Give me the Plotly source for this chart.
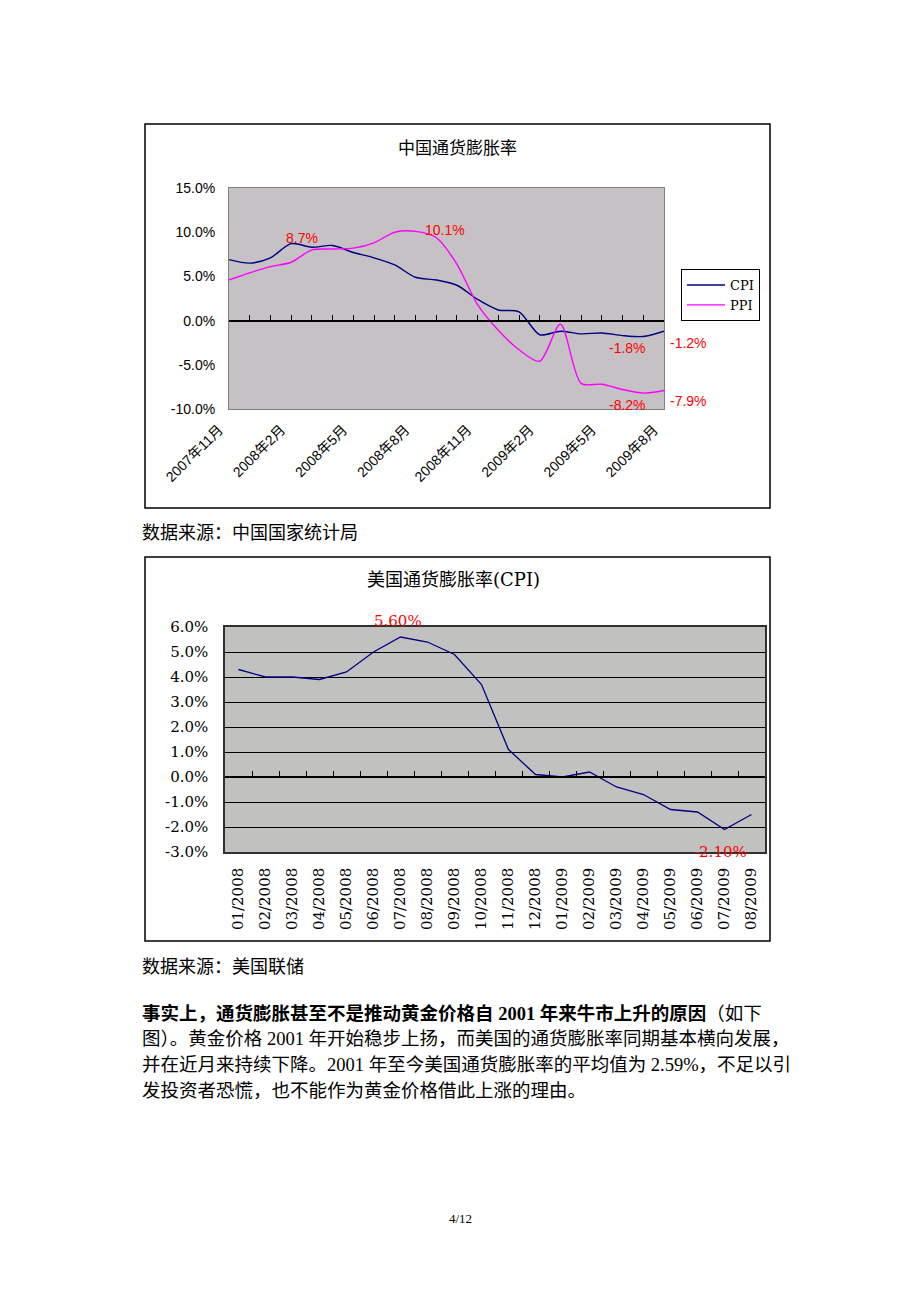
import plotly.graph_objects as go

W, H = 920, 1302

def fx(px):
    return px / W

def fy(py):
    return 1 - py / H

# ---------------- data: chart 1 (China) ----------------
cn_months = ["2007年11月", "2007年12月", "2008年1月", "2008年2月", "2008年3月", "2008年4月",
             "2008年5月", "2008年6月", "2008年7月", "2008年8月", "2008年9月", "2008年10月",
             "2008年11月", "2008年12月", "2009年1月", "2009年2月", "2009年3月", "2009年4月",
             "2009年5月", "2009年6月", "2009年7月", "2009年8月"]
cn_cpi = [6.9, 6.5, 7.1, 8.7, 8.3, 8.5, 7.7, 7.1, 6.3, 4.9, 4.6, 4.0,
          2.4, 1.2, 1.0, -1.6, -1.2, -1.5, -1.4, -1.7, -1.8, -1.2]
cn_ppi = [4.6, 5.4, 6.1, 6.6, 8.0, 8.1, 8.2, 8.8, 10.0, 10.1, 9.4, 6.4,
          1.8, -1.1, -3.3, -4.6, -0.4, -7.1, -7.2, -7.8, -8.2, -7.9]
cn_yticks = [-10, -5, 0, 5, 10, 15]

# ---------------- data: chart 2 (USA) ----------------
us_months = ["01/2008", "02/2008", "03/2008", "04/2008", "05/2008", "06/2008", "07/2008",
             "08/2008", "09/2008", "10/2008", "11/2008", "12/2008", "01/2009", "02/2009",
             "03/2009", "04/2009", "05/2009", "06/2009", "07/2009", "08/2009"]
us_cpi = [4.3, 4.0, 4.0, 3.9, 4.2, 5.0, 5.6, 5.4, 4.9, 3.7, 1.1, 0.1,
          0.0, 0.2, -0.4, -0.7, -1.3, -1.4, -2.1, -1.5]
us_yticks = [-3, -2, -1, 0, 1, 2, 3, 4, 5, 6]

NAVY = "#000080"
MAGENTA = "#FF00FF"
RED = "#FF0000"

SANS = "Liberation Sans, Arial, Noto Sans CJK SC"
SERIF = "DejaVu Serif, Noto Sans CJK SC"
CJK = "Noto Sans CJK SC"
TEXTF = "Liberation Serif, Noto Sans CJK SC"

cn_x = list(range(len(cn_months)))
us_x = list(range(len(us_months)))

fig = go.Figure()

# chart 1 traces
fig.add_trace(go.Scatter(x=cn_x, y=cn_cpi, mode="lines", name="CPI",
                         line=dict(color=NAVY, width=1.4, shape="spline", smoothing=0.8),
                         xaxis="x", yaxis="y", hoverinfo="skip"))
fig.add_trace(go.Scatter(x=cn_x, y=cn_ppi, mode="lines", name="PPI",
                         line=dict(color=MAGENTA, width=1.4, shape="spline", smoothing=0.8),
                         xaxis="x", yaxis="y", hoverinfo="skip"))
# helper (invisible) trace so the zero-crossing category axis gets drawn
fig.add_trace(go.Scatter(x=cn_x, y=cn_cpi, mode="lines", line=dict(width=0, color="rgba(0,0,0,0)"),
                         xaxis="x3", yaxis="y", showlegend=False, hoverinfo="skip"))

# chart 2 traces
fig.add_trace(go.Scatter(x=us_x, y=us_cpi, mode="lines", name="US CPI",
                         line=dict(color=NAVY, width=1.3),
                         xaxis="x2", yaxis="y2", showlegend=False, hoverinfo="skip"))
fig.add_trace(go.Scatter(x=us_x, y=us_cpi, mode="lines", line=dict(width=0, color="rgba(0,0,0,0)"),
                         xaxis="x4", yaxis="y2", showlegend=False, hoverinfo="skip"))

# domains
c1x = [fx(229), fx(664)]
c1y = [fy(409), fy(188)]
c2x = [fx(225), fx(765)]
c2y = [fy(852), fy(627)]

c1_range = [cn_yticks[0], cn_yticks[-1]]
c2_range = [us_yticks[0], us_yticks[-1]]
zero1 = c1y[0] + (0 - c1_range[0]) / (c1_range[1] - c1_range[0]) * (c1y[1] - c1y[0])
zero2 = c2y[0] + (0 - c2_range[0]) / (c2_range[1] - c2_range[0]) * (c2y[1] - c2y[0])

cn_label_idx = list(range(0, len(cn_months), 3))

layout = dict(
    width=W, height=H,
    margin=dict(l=0, r=0, t=0, b=0, pad=0, autoexpand=False),
    paper_bgcolor="white",
    plot_bgcolor="rgba(0,0,0,0)",
    showlegend=True,
    legend=dict(x=fx(681), y=fy(269), xanchor="left", yanchor="top",
                bgcolor="white", bordercolor="black", borderwidth=1,
                font=dict(family=SERIF, size=13, color="black"),
                itemwidth=38, tracegroupgap=0),
    xaxis=dict(domain=c1x, anchor="y", range=[0, len(cn_months) - 1], automargin=False,
               tickmode="array", tickvals=cn_label_idx,
               ticktext=[cn_months[i] for i in cn_label_idx],
               tickangle=-45, ticks="", showgrid=False, zeroline=False,
               showline=True, mirror=True, linecolor="#808080", linewidth=1,
               tickfont=dict(family=SANS, size=14, color="black"),
               ticklabelshift=-10, ticklabelstandoff=6),
    yaxis=dict(domain=c1y, anchor="x", range=c1_range, tickmode="array", automargin=False,
               tickvals=cn_yticks, ticktext=[f"{v:.1f}%" for v in cn_yticks],
               showgrid=False, zeroline=False, ticks="",
               showline=True, mirror=True, linecolor="#808080", linewidth=1,
               tickfont=dict(family=SANS, size=14, color="black"),
               ticklabelstandoff=10),
    xaxis3=dict(overlaying="x", anchor="free", position=zero1, automargin=False,
                range=[0, len(cn_months) - 1], tickmode="linear", tick0=0, dtick=1,
                ticks="inside", ticklen=5, tickcolor="black", tickwidth=1,
                showticklabels=False, showgrid=False, zeroline=False,
                showline=True, linecolor="black", linewidth=1.5),
    xaxis2=dict(domain=c2x, anchor="y2", range=[-0.5, len(us_months) - 0.5], automargin=False,
                tickmode="array", tickvals=us_x, ticktext=us_months,
                tickangle=-90, ticks="", showgrid=False, zeroline=False,
                showline=True, mirror=True, linecolor="#303030", linewidth=1.5,
                tickfont=dict(family=SERIF, size=15, color="black"),
                ticklabelstandoff=8),
    yaxis2=dict(domain=c2y, anchor="x2", range=c2_range, tickmode="array", automargin=False,
                tickvals=us_yticks, ticktext=[f"{v:.1f}%" for v in us_yticks],
                showgrid=True, gridcolor="black", gridwidth=1.3, zeroline=False, ticks="",
                showline=True, mirror=True, linecolor="#303030", linewidth=1.5,
                tickfont=dict(family=SERIF, size=15, color="black"),
                ticklabelstandoff=12),
    xaxis4=dict(overlaying="x2", anchor="free", position=zero2, automargin=False,
                range=[-0.5, len(us_months) - 0.5], tickmode="linear", tick0=0.5, dtick=1,
                ticks="inside", ticklen=5, tickcolor="black", tickwidth=1.3,
                showticklabels=False, showgrid=False, zeroline=False,
                showline=True, linecolor="black", linewidth=1.5),
)

shapes = [
    # plot area backgrounds
    dict(type="rect", xref="x domain", yref="y domain", x0=0, x1=1, y0=0, y1=1,
         fillcolor="#C5C1C5", line=dict(width=0), layer="below"),
    dict(type="rect", xref="x2 domain", yref="y2 domain", x0=0, x1=1, y0=0, y1=1,
         fillcolor="#C1C1BF", line=dict(width=0), layer="below"),
    # chart frames
    dict(type="rect", xref="paper", yref="paper", x0=fx(145), x1=fx(770), y0=fy(508), y1=fy(124),
         line=dict(color="black", width=1.5), fillcolor="rgba(0,0,0,0)", layer="below"),
    dict(type="rect", xref="paper", yref="paper", x0=fx(145), x1=fx(770), y0=fy(941), y1=fy(557),
         line=dict(color="black", width=1.5), fillcolor="rgba(0,0,0,0)", layer="below"),
]
layout["shapes"] = shapes

ann = []
# titles
ann.append(dict(text="中国通货膨胀率", x=fx(457), y=fy(146), xref="paper", yref="paper",
                showarrow=False, font=dict(family=CJK, size=17, color="black"),
                xanchor="center", yanchor="middle"))
ann.append(dict(text="美国通货膨胀率(CPI)", x=fx(453), y=fy(579), xref="paper", yref="paper",
                showarrow=False, font=dict(family=SERIF, size=18, color="black"),
                xanchor="center", yanchor="middle"))

# chart 1 data labels
def lab1(i, series, xs, ys):
    return dict(text=f"{series[i]:.1f}%", x=cn_x[i], y=series[i], xref="x", yref="y",
                showarrow=False, xshift=xs, yshift=ys,
                font=dict(family=SANS, size=14, color=RED),
                xanchor="center", yanchor="middle")

i_cpi_max = cn_cpi.index(max(cn_cpi))
i_ppi_max = cn_ppi.index(max(cn_ppi))
last = len(cn_months) - 1
ann.append(lab1(i_cpi_max, cn_cpi, 11, 6))
ann.append(lab1(i_ppi_max, cn_ppi, 30, 1))
ann.append(lab1(last - 1, cn_cpi, -16, -11))
ann.append(lab1(last - 1, cn_ppi, -16, -12))
ann.append(lab1(last, cn_cpi, 24, -12))
ann.append(lab1(last, cn_ppi, 24, -11))

# chart 2 data labels
i_us_max = us_cpi.index(max(us_cpi))
i_us_min = us_cpi.index(min(us_cpi))
ann.append(dict(text=f"{us_cpi[i_us_max]:.2f}%", x=us_x[i_us_max], y=us_cpi[i_us_max],
                xref="x2", yref="y2", showarrow=False, xshift=-3, yshift=16,
                font=dict(family=SERIF, size=15, color=RED), xanchor="center", yanchor="middle"))
ann.append(dict(text=f"{us_cpi[i_us_min]:.2f}%", x=us_x[i_us_min], y=us_cpi[i_us_min],
                xref="x2", yref="y2", showarrow=False, xshift=-4, yshift=-22,
                font=dict(family=SERIF, size=15, color=RED), xanchor="center", yanchor="middle"))

# page text
def ptext(t, px, py, size=18.5, fam=TEXTF, anchor="left"):
    return dict(text=t, x=fx(px), y=fy(py), xref="paper", yref="paper", showarrow=False,
                font=dict(family=fam, size=size, color="black"),
                xanchor=anchor, yanchor="middle")

ann.append(ptext("数据来源：中国国家统计局", 140, 533, size=18))
ann.append(ptext("数据来源：美国联储", 140, 967, size=18))
ann.append(ptext("<b>事实上，通货膨胀甚至不是推动黄金价格自 2001 年来牛市上升的原因</b>（如下", 140, 1013))
ann.append(ptext("图）。黄金价格 2001 年开始稳步上扬，而美国的通货膨胀率同期基本横向发展，", 140, 1039))
ann.append(ptext("并在近月来持续下降。2001 年至今美国通货膨胀率的平均值为 2.59%，不足以引", 140, 1065))
ann.append(ptext("发投资者恐慌，也不能作为黄金价格借此上涨的理由。", 140, 1091))
ann.append(ptext("4/12", 460, 1218, size=13, fam="Liberation Serif", anchor="center"))

layout["annotations"] = ann
fig.update_layout(**layout)

fig.write_html("out.html")
